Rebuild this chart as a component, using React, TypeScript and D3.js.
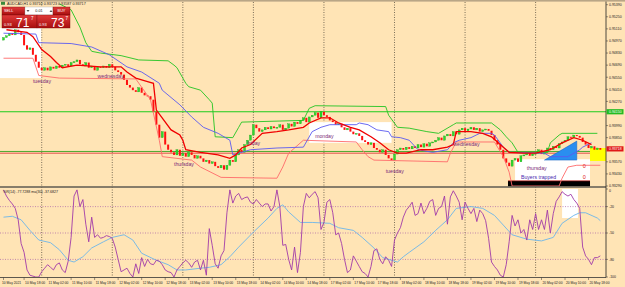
import React from "react";
import * as d3 from "d3";

// AUDCAD H1, closes in pips (x 0.0001), one per bar, 10 May 11:00 .. 20 May 21:00
const closes = [
  9501, 9503, 9506, 9504, 9510, 9507,
  9504, 9492, 9487, 9489, 9481, 9473, 9466, 9463,
  9466, 9463, 9467, 9465, 9468, 9466, 9469, 9470, 9468, 9472,
  9473, 9475, 9470, 9468, 9472, 9466, 9468, 9463, 9467, 9466,
  9468, 9466, 9470, 9467, 9463, 9461, 9458, 9452, 9446,
  9443, 9440, 9438, 9443, 9437, 9434, 9433, 9429,
  9415, 9400, 9385, 9392, 9377, 9371,
  9368, 9365, 9371, 9364, 9367, 9363, 9368, 9365, 9361, 9364,
  9361, 9357, 9359, 9355, 9357, 9352, 9350, 9353, 9348,
  9353, 9359, 9357, 9365, 9371, 9368, 9377, 9382, 9388,
  9400, 9396, 9392, 9394, 9397, 9395, 9398, 9396,
  9397, 9400, 9394, 9396, 9401, 9398, 9403, 9401,
  9405, 9408, 9403, 9409, 9411, 9414, 9408, 9415, 9411, 9409,
  9405, 9403, 9400, 9401, 9397, 9394, 9396, 9392, 9389, 9390,
  9387, 9382, 9380, 9377, 9379, 9373, 9371, 9368, 9371, 9365,
  9361, 9359, 9366, 9371, 9373,
  9371, 9374, 9372, 9375, 9373, 9377, 9374, 9378, 9375, 9379,
  9380, 9382, 9385, 9382, 9387, 9389, 9387, 9392, 9389, 9394,
  9396, 9393, 9395, 9397, 9394, 9396, 9392, 9394, 9395, 9393,
  9388, 9382, 9377, 9371, 9361, 9356, 9352,
  9359, 9361, 9357, 9364, 9365, 9368, 9364, 9366,
  9367, 9371, 9366, 9368, 9373, 9371, 9375, 9373,
  9378, 9380, 9382, 9386, 9385, 9388, 9387, 9385,
  9380, 9377, 9373, 9375, 9371, 9373, 9371,
];
const firstOpen = 9498;

// indicator lines as [bar, pips]
const greenUpper: [number, number][] = [
  [19, 9540], [23, 9533], [26, 9513], [28, 9495], [30, 9485], [33, 9483], [40, 9480], [46, 9475],
  [56, 9474], [58, 9469], [59, 9466], [61, 9454], [62, 9448], [63, 9444], [67, 9440], [70, 9429],
  [71, 9425], [72, 9386], [78, 9385], [80, 9397], [81, 9403], [102, 9405], [104, 9419], [106, 9422],
  [130, 9421], [131, 9411], [134, 9397], [138, 9396], [144, 9392], [148, 9390], [153, 9400], [154, 9402],
  [166, 9402], [169, 9394], [171, 9386], [173, 9379], [175, 9368], [185, 9368], [186, 9379], [189, 9388],
  [190, 9390], [202, 9390],
];
const blueLine: [number, number][] = [
  [0, 9506], [11, 9505], [12, 9495], [23, 9494], [30, 9490], [36, 9481], [42, 9467], [47, 9461],
  [53, 9448], [54, 9440], [60, 9423], [64, 9409], [68, 9397], [73, 9390], [77, 9382], [78, 9365],
  [84, 9371], [93, 9373], [102, 9374], [105, 9392], [108, 9397], [111, 9400], [120, 9400], [121, 9402],
  [124, 9400], [127, 9394], [131, 9392], [132, 9386], [135, 9385], [138, 9382], [141, 9371], [146, 9368],
  [151, 9371], [153, 9379], [155, 9382], [159, 9385], [162, 9390], [166, 9390], [167, 9388], [170, 9374],
  [172, 9368], [184, 9367], [186, 9363], [192, 9363], [196, 9371], [197, 9374], [200, 9379],
];
const redMa: [number, number][] = [
  [1, 9510], [8, 9507], [10, 9502], [13, 9487], [16, 9479], [18, 9472], [20, 9466], [25, 9469],
  [33, 9467], [40, 9467], [42, 9461], [45, 9454], [49, 9450], [51, 9448], [52, 9417], [57, 9394],
  [60, 9388], [61, 9382], [62, 9371], [67, 9368], [73, 9365], [77, 9361], [79, 9365], [81, 9373],
  [84, 9377], [88, 9390], [93, 9392], [97, 9394], [102, 9397], [104, 9402], [108, 9408], [111, 9408],
  [114, 9402], [118, 9397], [121, 9394], [125, 9386], [128, 9379], [131, 9371], [134, 9367], [137, 9367],
  [142, 9371], [146, 9371], [151, 9374], [153, 9377], [154, 9392], [159, 9392], [163, 9390], [166, 9386],
  [170, 9374], [172, 9368], [177, 9367], [181, 9367], [186, 9371], [190, 9379], [194, 9385], [197, 9382],
  [200, 9377],
];
const salmonLower: [number, number][] = [
  [0, 9477], [10, 9477], [12, 9457], [19, 9454], [45, 9453], [50, 9429], [53, 9382], [54, 9363],
  [64, 9359], [67, 9351], [74, 9339], [93, 9338], [95, 9351], [97, 9367], [102, 9382], [120, 9380],
  [122, 9371], [124, 9363], [126, 9359], [151, 9357], [152, 9367], [154, 9380], [167, 9380], [170, 9363],
  [172, 9345], [173, 9329], [189, 9329], [190, 9338], [192, 9351], [195, 9353], [203, 9353],
];

// Williams %R(14), one value per bar, and its moving average as [bar, value]
const wpr = [
  -1, -8, -13, -17, -22, -35, -62, -72, -92, -98,
  -99, -100, -100, -94, -90, -86, -89, -92, -86, -84,
  -92, -95, -82, -55, -8, -1, -20, -12, -40, -60,
  -32, -55, -52, -56, -55, -53, -54, -56, -66, -80,
  -94, -92, -90, -96, -100, -85, -96, -78, -88, -80,
  -85, -86, -81, -82, -86, -92, -94, -95, -100, -92,
  -88, -84, -81, -84, -89, -83, -81, -92, -81, -98,
  -45, -64, -85, -90, -76, -70, -27, -1, -16, -8,
  -5, -12, -10, -9, -15, -17, -12, -16, -20, -17,
  -17, -25, -20, -1, -20, -64, -63, -80, -92, -66,
  -95, -72, -20, -5, -10, -6, -3, -10, -46, -38,
  -15, -12, -27, -52, -50, -62, -80, -95, -92, -76,
  -82, -88, -94, -96, -100, -88, -70, -68, -80, -85,
  -77, -81, -88, -58, -50, -44, -32, -24, -20, -15,
  -30, -28, -16, -28, -22, -14, -12, -30, -22, -20,
  -8, -40, -9, -2, -8, -15, -35, -15, -22, -28,
  -22, -37, -24, -28, -36, -56, -83, -88, -92, -98,
  -100, -86, -60, -30, -42, -35, -50, -46, -58, -35,
  -46, -28, -46, -35, -46, -24, -50, -28, -14, -9,
  -3, -6, -8, -6, -12, -16, -22, -66, -76, -80,
  -86, -78, -78, -76,
];
const wprMa: [number, number][] = [
  [0, -32], [3, -31], [6, -35], [9, -47], [12, -58], [16, -61], [19, -69], [22, -81], [24, -83],
  [27, -77], [30, -67], [34, -60], [37, -55], [41, -52], [44, -58], [47, -73], [52, -81], [56, -86],
  [59, -92], [62, -92], [67, -90], [70, -89], [74, -86], [77, -77], [80, -66], [85, -49], [90, -33],
  [93, -22], [95, -18], [97, -26], [101, -38], [105, -38], [111, -39], [114, -44], [119, -47], [122, -55],
  [126, -67], [129, -78], [134, -83], [136, -77], [138, -72], [143, -60], [147, -47], [151, -35], [154, -22],
  [159, -20], [163, -22], [167, -30], [170, -41], [173, -52], [178, -57], [183, -59], [187, -55], [190, -39],
  [194, -30], [196, -27], [198, -27], [202, -33], [203, -36],
];

const priceTicks = [
  0.9329, 0.9343, 0.9357, 0.9371, 0.9385, 0.9399, 0.9413, 0.9427,
  0.9441, 0.9455, 0.9469, 0.9483, 0.9497, 0.9511, 0.9525, 0.9539,
];
const wprTicks = [0, -20, -50, -80, -100];
const wprLevels = [-20, -50, -80];
const timeBars = [0, 7, 15, 23, 31, 39, 47, 55, 63, 71, 79, 87, 95, 103, 111, 119, 127, 135, 143, 151, 159, 167, 175, 183, 191, 199];
const timeLabels = [
  "10 May 2021", "10 May 18:00", "11 May 02:00", "11 May 10:00", "11 May 18:00", "12 May 02:00",
  "12 May 10:00", "12 May 18:00", "13 May 02:00", "13 May 10:00", "13 May 18:00", "14 May 02:00",
  "14 May 10:00", "14 May 18:00", "17 May 02:00", "17 May 10:00", "17 May 18:00", "18 May 02:00",
  "18 May 10:00", "18 May 18:00", "19 May 02:00", "19 May 10:00", "19 May 18:00", "20 May 02:00",
  "20 May 10:00", "20 May 18:00",
];
const daySepBars = [13, 37, 61, 85, 109, 133, 157, 181];
const dayNames = ["tuesday", "wednesday", "thursday", "friday", "monday", "tuesday", "wednesday", "thursday"];
const dayNameBars = [10, 32, 58, 83, 106, 130, 153, 178];
const dayNamePips = [9448, 9454, 9352, 9377, 9385, 9344, 9375, 9348];

const greenLevel = 9415;
const greenLevel2 = 9369;
const redLevel = 9367;
const bidPips = 9372;
const bidPrice = 0.93718;

const W = 625;
const H = 287;
const FONT = "'Liberation Sans', Arial, sans-serif";

export default function App() {
  const x = d3.scaleLinear().domain([0, 203]).range([3.5, 600.3]);
  const y = d3.scaleLinear().domain([9329, 9539]).range([186, 4.7]);
  const yw = d3.scaleLinear().domain([0, -100]).range([189, 277]);

  const pl = d3.line<[number, number]>().x(d => x(d[0])).y(d => y(d[1]));
  const wl = d3.line<number>().x((_, i) => x(i)).y(d => yw(d));
  const wml = d3.line<[number, number]>().x(d => x(d[0])).y(d => yw(d[1]));

  const candles = closes.map((c, i) => {
    const o = i === 0 ? firstOpen : closes[i - 1];
    const up = c >= o;
    const top = y(Math.max(o, c));
    const h = Math.max(1, y(Math.min(o, c)) - top);
    return (
      <rect key={i} x={x(i) - 1} y={top} width={2} height={h}
        fill={up ? "#2fd82f" : "#ff1010"} stroke={up ? "#0a9a0a" : "none"} strokeWidth={0.3} />
    );
  });

  // price labels hidden under the coloured level labels
  const shownTicks = priceTicks.filter(p =>
    Math.abs(y(p * 10000) - y(greenLevel)) > 5 && Math.abs(y(p * 10000) - y(bidPips)) > 5);

  const tri: [number, number][] = [[184, 9359], [195, 9381], [195, 9359]];

  return (
    <svg width={W} height={H} style={{ position: "fixed", left: 0, top: 0, display: "block" }} fontFamily={FONT}>
      <defs>
        <clipPath id="main"><rect x={0} y={2} width={606} height={184.5} /></clipPath>
        <clipPath id="sub"><rect x={0} y={188} width={606} height={89} /></clipPath>
        <linearGradient id="btn" x1="0" y1="0" x2="0" y2="1">
          <stop offset="0" stopColor="#e03a3a" />
          <stop offset="1" stopColor="#a80e0e" />
        </linearGradient>
      </defs>
      <rect width={W} height={H} fill="#ffe4b5" />
      <rect width={W} height={1.6} fill="#b9a686" />

      {/* day separators */}
      {daySepBars.map(b => (
        <line key={b} x1={x(b)} x2={x(b)} y1={2} y2={277} stroke="#5a5040" strokeWidth={0.8} strokeDasharray="1,1.5" />
      ))}

      <g clipPath="url(#main)">
        {/* rectangles */}
        <rect x={0} y={y(9512)} width={x(13) - 0.5} height={y(9454) - y(9512)} fill="#ffffff" />
        <rect x={x(104)} y={y(9403)} width={x(132) - x(104)} height={y(9379) - y(9403)} fill="#ffffff" />
        <rect x={x(174)} y={y(9360)} width={x(199.5) - x(174)} height={y(9335) - y(9360)} fill="#ffffff" />
        <rect x={x(171.6)} y={y(9335)} width={x(199.5) - x(171.6)} height={8} fill="#000000" />
        <line x1={x(171.6)} x2={x(199.5)} y1={y(9335)} y2={y(9335)} stroke="#d01010" strokeWidth={0.6} />

        <line x1={0} x2={606} y1={y(greenLevel)} y2={y(greenLevel)} stroke="#1ccc1c" strokeWidth={1.2} />
        <line x1={0} x2={606} y1={y(greenLevel2)} y2={y(greenLevel2)} stroke="#4caa30" strokeWidth={1} />
        <line x1={0} x2={606} y1={y(redLevel)} y2={y(redLevel)} stroke="#e04040" strokeWidth={0.9} />

        <polygon points={tri.map(d => `${x(d[0])},${y(d[1])}`).join(" ")} fill="#2a8ef0" stroke="#1060c0" strokeWidth={0.5} />
        <rect x={x(199.5)} y={y(9373)} width={606 - x(199.5)} height={y(9358) - y(9373)} fill="#ffff00" />

        {candles}

        <path d={pl(salmonLower) ?? ""} fill="none" stroke="#ff6a6a" strokeWidth={0.9} />
        <path d={pl(greenUpper) ?? ""} fill="none" stroke="#22c422" strokeWidth={0.9} />
        <path d={pl(blueLine) ?? ""} fill="none" stroke="#5a5af0" strokeWidth={0.9} />
        <path d={pl(redMa) ?? ""} fill="none" stroke="#f00000" strokeWidth={1.3} />

        {dayNames.map((n, i) => (
          <text key={i} x={x(dayNameBars[i])} y={y(dayNamePips[i])} fontSize={5.2} fill="#7a2a78">{n}</text>
        ))}
        <text x={x(176)} y={y(9336) - 0.5} fontSize={5.2} fill="#4a2ab0">Buyers trapped</text>
        <text x={x(197)} y={y(9350)} fontSize={5.5} fill="#e02020">0</text>
        <text x={x(197)} y={y(9337)} fontSize={5.5} fill="#e02020">0</text>
      </g>

      {/* lower panel */}
      <g clipPath="url(#sub)">
        <rect x={x(190)} y={yw(0)} width={x(195.4) - x(190)} height={yw(-33) - yw(0)} fill="#ffffff" />
        {wprLevels.map(l => (
          <line key={l} x1={0} x2={606} y1={yw(l)} y2={yw(l)} stroke="#a860a8" strokeWidth={0.7} strokeDasharray="1,1.5" />
        ))}
        <path d={wml(wprMa) ?? ""} fill="none" stroke="#6cb6ea" strokeWidth={0.9} />
        <path d={wl(wpr) ?? ""} fill="none" stroke="#a13aa8" strokeWidth={0.9} />
      </g>
      <text x={3} y={193} fontSize={3.6} fill="#222">%R(14) -77.7288  ma(30) -37.6827</text>

      {/* frame */}
      <rect x={0} y={186.2} width={606} height={1.6} fill="#6a6458" />
      <line x1={0} x2={606} y1={277.5} y2={277.5} stroke="#333" strokeWidth={0.8} />
      <line x1={606} x2={606} y1={1.6} y2={277.5} stroke="#222" strokeWidth={0.8} />

      {/* price axis */}
      {shownTicks.map(p => (
        <g key={p}>
          <line x1={606} x2={608} y1={y(p * 10000)} y2={y(p * 10000)} stroke="#333" strokeWidth={0.5} />
          <text x={609} y={y(p * 10000) + 1.3} fontSize={3.5} fill="#222">{p.toFixed(5)}</text>
        </g>
      ))}
      <rect x={606.5} y={y(greenLevel) - 2.6} width={17} height={5.2} fill="#22bb22" />
      <text x={609} y={y(greenLevel) + 1.3} fontSize={3.5} fill="#fff">{(greenLevel / 10000).toFixed(5)}</text>
      <rect x={606.5} y={y(bidPips) - 2.6} width={17} height={5.2} fill="#e01818" />
      <text x={609} y={y(bidPips) + 1.3} fontSize={3.5} fill="#fff">{bidPrice.toFixed(5)}</text>

      {wprTicks.map(t => (
        <g key={t}>
          <line x1={606} x2={608} y1={yw(t)} y2={yw(t)} stroke="#333" strokeWidth={0.5} />
          <text x={609} y={yw(t) + (t === 0 ? 3 : 1.3)} fontSize={3.5} fill="#222">{t}</text>
        </g>
      ))}

      {/* time axis */}
      {timeBars.map((b, i) => (
        <g key={b}>
          <line x1={x(b)} x2={x(b)} y1={277.5} y2={280} stroke="#333" strokeWidth={0.5} />
          <text x={i === 0 ? 2 : x(b) + 1} y={283.5} fontSize={3.3} fill="#222">{timeLabels[i]}</text>
        </g>
      ))}

      {/* title and one-click trading panel */}
      <rect x={1} y={1.8} width={4} height={3} fill="#3a8a3a" />
      <text x={7} y={5} fontSize={3.7} fill="#222">AUDCAD,H1  0.93710 0.93723 0.93587 0.93717</text>

      <rect x={2} y={7} width={23} height={8} fill="url(#btn)" stroke="#7a0a0a" strokeWidth={0.4} />
      <text x={4} y={12.3} fontSize={3.8} fill="#fff">SELL</text>
      <rect x={25} y={7} width={28} height={8} fill="#ffffff" stroke="#b0b0b0" strokeWidth={0.4} />
      <polygon points="26.5,10 29.5,10 28,12" fill="#555" />
      <polygon points="49.5,12 52.5,12 51,10" fill="#555" />
      <text x={39} y={12.3} fontSize={3.8} fill="#222" textAnchor="middle">0.01</text>
      <rect x={53} y={7} width={17} height={8} fill="url(#btn)" stroke="#7a0a0a" strokeWidth={0.4} />
      <text x={61.5} y={12.3} fontSize={3.8} fill="#fff" textAnchor="middle">BUY</text>

      <rect x={2} y={15} width={35} height={13} fill="url(#btn)" stroke="#7a0a0a" strokeWidth={0.4} />
      <text x={4} y={25.5} fontSize={4} fill="#fff">0.93</text>
      <text x={16} y={27} fontSize={12} fill="#fff">71</text>
      <text x={31} y={20} fontSize={4.5} fill="#fff">7</text>
      <rect x={37} y={15} width={33} height={13} fill="url(#btn)" stroke="#7a0a0a" strokeWidth={0.4} />
      <text x={39} y={25.5} fontSize={4} fill="#fff">0.93</text>
      <text x={51} y={27} fontSize={12} fill="#fff">73</text>
      <text x={65.5} y={20} fontSize={4.5} fill="#fff">7</text>
    </svg>
  );
}
